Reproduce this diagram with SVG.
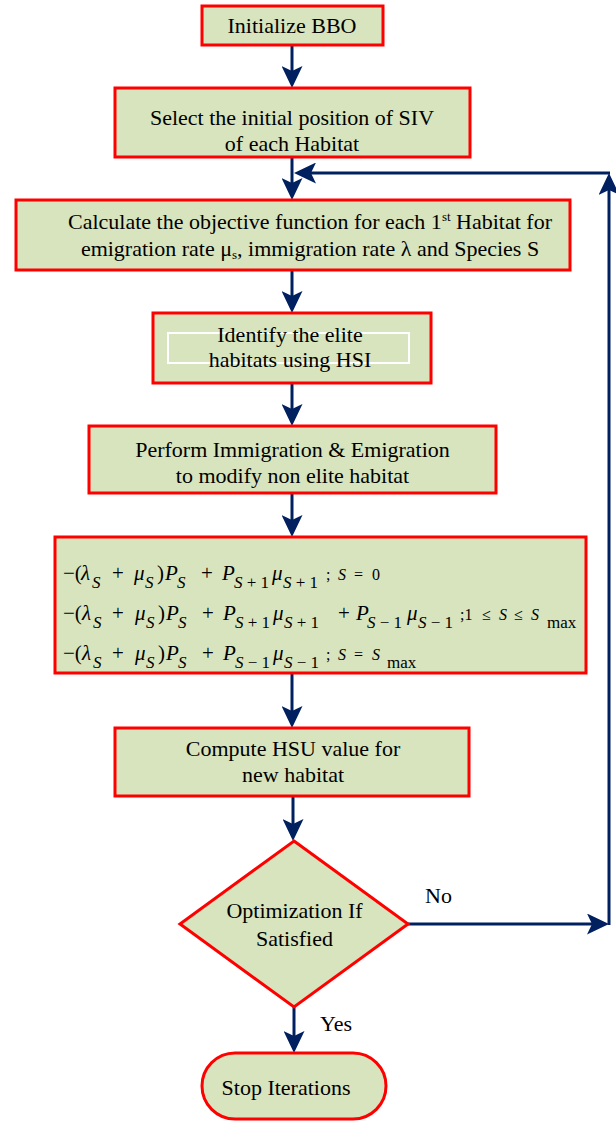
<svg xmlns="http://www.w3.org/2000/svg" width="616" height="1122" viewBox="0 0 616 1122">
<style>
.box{fill:#d7e4bd;stroke:#ff0000;stroke-width:3}
.t{font-family:"Liberation Serif","Times New Roman",serif;font-size:22px;fill:#000;text-anchor:middle}
.m{font-family:"Liberation Serif","Times New Roman",serif;font-size:21px;fill:#000}
.i{font-style:italic}
.s{font-size:17px}
.c{font-size:16px}
.lbl{font-family:"Liberation Serif","Times New Roman",serif;font-size:22px;fill:#000}
.con{fill:none;stroke:#002060;stroke-width:3}
</style>
<defs>
<marker id="ah" viewBox="0 0 22 21" markerWidth="22" markerHeight="21" refX="18" refY="10.5" orient="auto" markerUnits="userSpaceOnUse">
<path d="M0,0 L22,10.5 L0,21 L5,10.5 Z" fill="#002060"/>
</marker>
</defs>
<g id="connectors">
<path class="con" d="M292,45 V84" marker-end="url(#ah)"/>
<path class="con" d="M292,157 V196" marker-end="url(#ah)"/>
<path class="con" d="M292,270 V309" marker-end="url(#ah)"/>
<path class="con" d="M292,383 V422" marker-end="url(#ah)"/>
<path class="con" d="M292,493 V533" marker-end="url(#ah)"/>
<path class="con" d="M292,673 V724" marker-end="url(#ah)"/>
<path class="con" d="M293,796 V837" marker-end="url(#ah)"/>
<path class="con" d="M294,1007 V1049" marker-end="url(#ah)"/>
<path class="con" d="M408,924 H605" marker-end="url(#ah)"/>
<path class="con" d="M609,925 V177" marker-end="url(#ah)"/>
<path class="con" d="M610,173 H298" marker-end="url(#ah)"/>
</g>
<g id="init">
<rect class="box" x="202" y="6" width="181" height="39"/>
<text class="t" x="292" y="33">Initialize BBO</text>
</g>
<g id="select">
<rect class="box" x="115" y="88" width="355" height="69"/>
<text class="t" x="292" y="125">Select the initial position of SIV</text>
<text class="t" x="292" y="151">of each Habitat</text>
</g>
<g id="calculate">
<rect class="box" x="16" y="200" width="554" height="70"/>
<text class="t" x="310" y="229">Calculate the objective function for each 1<tspan font-size="13" dy="-8">st</tspan><tspan dy="8"> Habitat for</tspan></text>
<text class="t" x="310" y="256">emigration rate μ<tspan font-size="13" dy="3">s</tspan><tspan dy="-3">,  immigration  rate λ and Species S</tspan></text>
</g>
<g id="identify">
<rect class="box" x="153" y="313" width="278" height="70"/>
<rect x="168" y="333" width="241" height="30" fill="none" stroke="#ffffff" stroke-width="2"/>
<text class="t" x="290" y="342">Identify the elite</text>
<text class="t" x="290" y="367">habitats using HSI</text>
</g>
<g id="perform">
<rect class="box" x="89" y="426" width="407" height="67"/>
<text class="t" x="292.5" y="457">Perform Immigration &amp; Emigration</text>
<text class="t" x="292.5" y="483">to modify non elite habitat</text>
</g>
<g id="equations">
<rect class="box" x="55" y="537" width="531" height="136"/>
<text class="m">
<tspan x="63" y="580">−(</tspan><tspan class="i" x="81" y="580">λ</tspan><tspan class="i s" x="92" y="588">S</tspan><tspan x="112" y="580">+</tspan><tspan class="i" x="134" y="580">μ</tspan><tspan class="i s" x="145" y="588">S</tspan><tspan x="157" y="580">)</tspan><tspan class="i" x="165" y="580">P</tspan><tspan class="i s" x="177" y="588">S</tspan><tspan x="201" y="580">+</tspan><tspan class="i" x="222" y="580">P</tspan><tspan class="s" x="234" y="588"><tspan class="i">S</tspan> + 1</tspan><tspan class="i" x="272" y="580">μ</tspan><tspan class="s" x="283" y="588"><tspan class="i">S</tspan> + 1</tspan><tspan class="c" x="326" y="580">;</tspan><tspan class="c i" x="338" y="580">S</tspan><tspan class="c" x="354" y="580">=</tspan><tspan class="c" x="372" y="580">0</tspan>
</text>
<text class="m">
<tspan x="63" y="620">−(</tspan><tspan class="i" x="82" y="620">λ</tspan><tspan class="i s" x="93" y="628">S</tspan><tspan x="112" y="620">+</tspan><tspan class="i" x="135" y="620">μ</tspan><tspan class="i s" x="146" y="628">S</tspan><tspan x="158" y="620">)</tspan><tspan class="i" x="166" y="620">P</tspan><tspan class="i s" x="178" y="628">S</tspan><tspan x="202" y="620">+</tspan><tspan class="i" x="223" y="620">P</tspan><tspan class="s" x="235" y="628"><tspan class="i">S</tspan> + 1</tspan><tspan class="i" x="273" y="620">μ</tspan><tspan class="s" x="284" y="628"><tspan class="i">S</tspan> + 1</tspan><tspan x="338" y="620">+</tspan><tspan class="i" x="356" y="620">P</tspan><tspan class="s" x="367" y="628"><tspan class="i">S</tspan> − 1</tspan><tspan class="i" x="407" y="620">μ</tspan><tspan class="s" x="418" y="628"><tspan class="i">S</tspan> − 1</tspan><tspan class="c" x="460" y="620">;1</tspan><tspan class="c" x="482" y="620">≤</tspan><tspan class="c i" x="499" y="620">S</tspan><tspan class="c" x="514" y="620">≤</tspan><tspan class="c i" x="531" y="620">S</tspan><tspan class="s" x="547" y="628">max</tspan>
</text>
<text class="m">
<tspan x="63" y="660">−(</tspan><tspan class="i" x="82" y="660">λ</tspan><tspan class="i s" x="93" y="668">S</tspan><tspan x="112" y="660">+</tspan><tspan class="i" x="135" y="660">μ</tspan><tspan class="i s" x="146" y="668">S</tspan><tspan x="158" y="660">)</tspan><tspan class="i" x="166" y="660">P</tspan><tspan class="i s" x="178" y="668">S</tspan><tspan x="202" y="660">+</tspan><tspan class="i" x="223" y="660">P</tspan><tspan class="s" x="235" y="668"><tspan class="i">S</tspan> − 1</tspan><tspan class="i" x="273" y="660">μ</tspan><tspan class="s" x="284" y="668"><tspan class="i">S</tspan> − 1</tspan><tspan class="c" x="326" y="660">;</tspan><tspan class="c i" x="338" y="660">S</tspan><tspan class="c" x="354" y="660">=</tspan><tspan class="c i" x="372" y="660">S</tspan><tspan class="s" x="387" y="668">max</tspan>
</text>
</g>
<g id="compute">
<rect class="box" x="115" y="728" width="354" height="68"/>
<text class="t" x="293" y="756">Compute HSU value for</text>
<text class="t" x="293" y="782">new habitat</text>
</g>
<g id="decision">
<polygon class="box" points="294,841 408,924 294,1007 180,924"/>
<text class="t" x="294.5" y="918">Optimization If</text>
<text class="t" x="294.5" y="946">Satisfied</text>
</g>
<g id="stop">
<rect class="box" x="202" y="1053" width="184" height="66" rx="33" ry="33"/>
<text class="t" x="286" y="1095">Stop Iterations</text>
</g>
<g id="labels">
<text class="lbl" x="425" y="903">No</text>
<text class="lbl" x="320" y="1031">Yes</text>
</g>
</svg>
